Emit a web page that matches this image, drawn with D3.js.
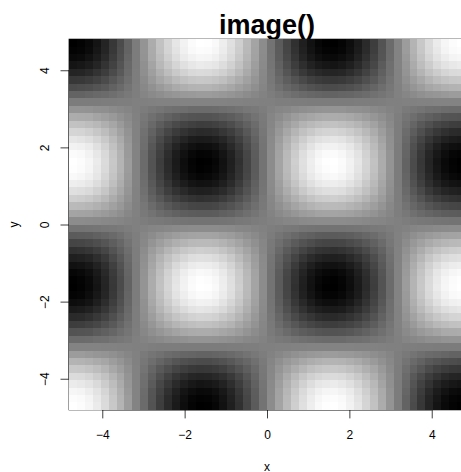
<!DOCTYPE html>
<html>
<head>
<meta charset="utf-8">
<script src="https://cdnjs.cloudflare.com/ajax/libs/d3/7.8.5/d3.min.js"></script>
<style>
html, body { margin: 0; padding: 0; background: #fff; overflow: hidden; }
text { font-family: "Liberation Sans", Arial, sans-serif; fill: #000; }
</style>
</head>
<body>
<div id="chart"></div>
<script>
// cell centres
const xs = [-4.71,-4.52,-4.33,-4.14,-3.94,-3.75,-3.56,-3.37,-3.17,-2.98,-2.79,-2.6,-2.4,-2.21,-2.02,-1.83,-1.64,-1.44,-1.25,-1.06,-0.87,-0.67,-0.48,-0.29,-0.1,0.1,0.29,0.48,0.67,0.87,1.06,1.25,1.44,1.64,1.83,2.02,2.21,2.4,2.6,2.79,2.98,3.17,3.37,3.56,3.75,3.94,4.14,4.33,4.52,4.71];
const ys = [4.71,4.52,4.33,4.14,3.94,3.75,3.56,3.37,3.17,2.98,2.79,2.6,2.4,2.21,2.02,1.83,1.64,1.44,1.25,1.06,0.87,0.67,0.48,0.29,0.1,-0.1,-0.29,-0.48,-0.67,-0.87,-1.06,-1.25,-1.44,-1.64,-1.83,-2.02,-2.21,-2.4,-2.6,-2.79,-2.98,-3.17,-3.37,-3.56,-3.75,-3.94,-4.14,-4.33,-4.52,-4.71];
const xTicks = [-4,-2,0,2,4];
const yTicks = [-4,-2,0,2,4];

// estimated gray level of each cell, -100 black to 100 white, top row first
const cells = [
[-100,-98,-93,-84,-72,-57,-41,-22,-3,16,35,52,67,80,90,97,100,99,95,87,76,62,46,29,10,-10,-29,-46,-62,-76,-87,-95,-99,-100,-97,-90,-80,-67,-52,-35,-16,3,22,41,57,72,84,93,98,100],
[-98,-96,-91,-82,-71,-56,-40,-22,-3,16,34,51,66,78,88,95,98,97,93,85,74,61,45,28,10,-10,-28,-45,-61,-74,-85,-93,-97,-98,-95,-88,-78,-66,-51,-34,-16,3,22,40,56,71,82,91,96,98],
[-93,-91,-86,-78,-67,-53,-38,-20,-3,15,33,48,62,74,84,90,93,92,88,81,71,58,43,27,9,-9,-27,-43,-58,-71,-81,-88,-92,-93,-90,-84,-74,-62,-48,-33,-15,3,20,38,53,67,78,86,91,93],
[-84,-82,-78,-71,-60,-48,-34,-18,-3,13,29,44,56,67,76,81,84,83,80,73,64,52,39,24,8,-8,-24,-39,-52,-64,-73,-80,-83,-84,-81,-76,-67,-56,-44,-29,-13,3,18,34,48,60,71,78,82,84],
[-72,-71,-67,-60,-52,-41,-30,-16,-2,12,25,37,48,58,65,70,72,71,68,63,55,45,33,21,7,-7,-21,-33,-45,-55,-63,-68,-71,-72,-70,-65,-58,-48,-37,-25,-12,2,16,30,41,52,60,67,71,72],
[-57,-56,-53,-48,-41,-32,-23,-13,-2,9,20,30,38,46,51,55,57,56,54,50,43,35,26,17,6,-6,-17,-26,-35,-43,-50,-54,-56,-57,-55,-51,-46,-38,-30,-20,-9,2,13,23,32,41,48,53,56,57],
[-41,-40,-38,-34,-30,-23,-17,-9,-1,7,14,21,27,33,37,40,41,41,39,36,31,25,19,12,4,-4,-12,-19,-25,-31,-36,-39,-41,-41,-40,-37,-33,-27,-21,-14,-7,1,9,17,23,30,34,38,40,41],
[-22,-22,-20,-18,-16,-13,-9,-5,-1,4,8,11,15,18,20,21,22,22,21,19,17,14,10,6,2,-2,-6,-10,-14,-17,-19,-21,-22,-22,-21,-20,-18,-15,-11,-8,-4,1,5,9,13,16,18,20,22,22],
[-3,-3,-3,-3,-2,-2,-1,-1,0,0,1,2,2,2,3,3,3,3,3,3,2,2,1,1,0,0,-1,-1,-2,-2,-3,-3,-3,-3,-3,-3,-2,-2,-2,-1,0,0,1,1,2,2,3,3,3,3],
[16,16,15,13,12,9,7,4,0,-3,-6,-8,-11,-13,-14,-16,-16,-16,-15,-14,-12,-10,-7,-5,-2,2,5,7,10,12,14,15,16,16,16,14,13,11,8,6,3,0,-4,-7,-9,-12,-13,-15,-16,-16],
[35,34,33,29,25,20,14,8,1,-6,-12,-18,-23,-28,-32,-34,-35,-35,-33,-30,-27,-22,-16,-10,-4,4,10,16,22,27,30,33,35,35,34,32,28,23,18,12,6,-1,-8,-14,-20,-25,-29,-33,-34,-35],
[52,51,48,44,37,30,21,11,2,-8,-18,-27,-35,-42,-47,-50,-52,-51,-49,-45,-40,-32,-24,-15,-5,5,15,24,32,40,45,49,51,52,50,47,42,35,27,18,8,-2,-11,-21,-30,-37,-44,-48,-51,-52],
[67,66,62,56,48,38,27,15,2,-11,-23,-35,-45,-54,-60,-65,-67,-66,-64,-58,-51,-42,-31,-19,-7,7,19,31,42,51,58,64,66,67,65,60,54,45,35,23,11,-2,-15,-27,-38,-48,-56,-62,-66,-67],
[80,78,74,67,58,46,33,18,2,-13,-28,-42,-54,-64,-72,-78,-80,-79,-76,-70,-61,-50,-37,-23,-8,8,23,37,50,61,70,76,79,80,78,72,64,54,42,28,13,-2,-18,-33,-46,-58,-67,-74,-78,-80],
[90,88,84,76,65,51,37,20,3,-14,-32,-47,-60,-72,-81,-87,-90,-89,-86,-78,-68,-56,-41,-26,-9,9,26,41,56,68,78,86,89,90,87,81,72,60,47,32,14,-3,-20,-37,-51,-65,-76,-84,-88,-90],
[97,95,90,81,70,55,40,21,3,-16,-34,-50,-65,-78,-87,-94,-97,-96,-92,-84,-74,-60,-45,-28,-10,10,28,45,60,74,84,92,96,97,94,87,78,65,50,34,16,-3,-21,-40,-55,-70,-81,-90,-95,-97],
[100,98,93,84,72,57,41,22,3,-16,-35,-52,-67,-80,-90,-97,-100,-99,-95,-87,-76,-62,-46,-29,-10,10,29,46,62,76,87,95,99,100,97,90,80,67,52,35,16,-3,-22,-41,-57,-72,-84,-93,-98,-100],
[99,97,92,83,71,56,41,22,3,-16,-35,-51,-66,-79,-89,-96,-99,-98,-94,-86,-75,-61,-46,-29,-10,10,29,46,61,75,86,94,98,99,96,89,79,66,51,35,16,-3,-22,-41,-56,-71,-83,-92,-97,-99],
[95,93,88,80,68,54,39,21,3,-15,-33,-49,-64,-76,-86,-92,-95,-94,-90,-83,-72,-59,-44,-28,-10,10,28,44,59,72,83,90,94,95,92,86,76,64,49,33,15,-3,-21,-39,-54,-68,-80,-88,-93,-95],
[87,85,81,73,63,50,36,19,3,-14,-30,-45,-58,-70,-78,-84,-87,-86,-83,-76,-66,-54,-40,-25,-9,9,25,40,54,66,76,83,86,87,84,78,70,58,45,30,14,-3,-19,-36,-50,-63,-73,-81,-85,-87],
[76,74,71,64,55,43,31,17,2,-12,-27,-40,-51,-61,-68,-74,-76,-75,-72,-66,-58,-47,-35,-22,-8,8,22,35,47,58,66,72,75,76,74,68,61,51,40,27,12,-2,-17,-31,-43,-55,-64,-71,-74,-76],
[62,61,58,52,45,35,25,14,2,-10,-22,-32,-42,-50,-56,-60,-62,-61,-59,-54,-47,-38,-29,-18,-6,6,18,29,38,47,54,59,61,62,60,56,50,42,32,22,10,-2,-14,-25,-35,-45,-52,-58,-61,-62],
[46,45,43,39,33,26,19,10,1,-7,-16,-24,-31,-37,-41,-45,-46,-46,-44,-40,-35,-29,-21,-13,-5,5,13,21,29,35,40,44,46,46,45,41,37,31,24,16,7,-1,-10,-19,-26,-33,-39,-43,-45,-46],
[29,28,27,24,21,17,12,6,1,-5,-10,-15,-19,-23,-26,-28,-29,-29,-28,-25,-22,-18,-13,-8,-3,3,8,13,18,22,25,28,29,29,28,26,23,19,15,10,5,-1,-6,-12,-17,-21,-24,-27,-28,-29],
[10,10,9,8,7,6,4,2,0,-2,-4,-5,-7,-8,-9,-10,-10,-10,-10,-9,-8,-6,-5,-3,-1,1,3,5,6,8,9,10,10,10,10,9,8,7,5,4,2,0,-2,-4,-6,-7,-8,-9,-10,-10],
[-10,-10,-9,-8,-7,-6,-4,-2,0,2,4,5,7,8,9,10,10,10,10,9,8,6,5,3,1,-1,-3,-5,-6,-8,-9,-10,-10,-10,-10,-9,-8,-7,-5,-4,-2,0,2,4,6,7,8,9,10,10],
[-29,-28,-27,-24,-21,-17,-12,-6,-1,5,10,15,19,23,26,28,29,29,28,25,22,18,13,8,3,-3,-8,-13,-18,-22,-25,-28,-29,-29,-28,-26,-23,-19,-15,-10,-5,1,6,12,17,21,24,27,28,29],
[-46,-45,-43,-39,-33,-26,-19,-10,-1,7,16,24,31,37,41,45,46,46,44,40,35,29,21,13,5,-5,-13,-21,-29,-35,-40,-44,-46,-46,-45,-41,-37,-31,-24,-16,-7,1,10,19,26,33,39,43,45,46],
[-62,-61,-58,-52,-45,-35,-25,-14,-2,10,22,32,42,50,56,60,62,61,59,54,47,38,29,18,6,-6,-18,-29,-38,-47,-54,-59,-61,-62,-60,-56,-50,-42,-32,-22,-10,2,14,25,35,45,52,58,61,62],
[-76,-74,-71,-64,-55,-43,-31,-17,-2,12,27,40,51,61,68,74,76,75,72,66,58,47,35,22,8,-8,-22,-35,-47,-58,-66,-72,-75,-76,-74,-68,-61,-51,-40,-27,-12,2,17,31,43,55,64,71,74,76],
[-87,-85,-81,-73,-63,-50,-36,-19,-3,14,30,45,58,70,78,84,87,86,83,76,66,54,40,25,9,-9,-25,-40,-54,-66,-76,-83,-86,-87,-84,-78,-70,-58,-45,-30,-14,3,19,36,50,63,73,81,85,87],
[-95,-93,-88,-80,-68,-54,-39,-21,-3,15,33,49,64,76,86,92,95,94,90,83,72,59,44,28,10,-10,-28,-44,-59,-72,-83,-90,-94,-95,-92,-86,-76,-64,-49,-33,-15,3,21,39,54,68,80,88,93,95],
[-99,-97,-92,-83,-71,-56,-41,-22,-3,16,35,51,66,79,89,96,99,98,94,86,75,61,46,29,10,-10,-29,-46,-61,-75,-86,-94,-98,-99,-96,-89,-79,-66,-51,-35,-16,3,22,41,56,71,83,92,97,99],
[-100,-98,-93,-84,-72,-57,-41,-22,-3,16,35,52,67,80,90,97,100,99,95,87,76,62,46,29,10,-10,-29,-46,-62,-76,-87,-95,-99,-100,-97,-90,-80,-67,-52,-35,-16,3,22,41,57,72,84,93,98,100],
[-97,-95,-90,-81,-70,-55,-40,-21,-3,16,34,50,65,78,87,94,97,96,92,84,74,60,45,28,10,-10,-28,-45,-60,-74,-84,-92,-96,-97,-94,-87,-78,-65,-50,-34,-16,3,21,40,55,70,81,90,95,97],
[-90,-88,-84,-76,-65,-51,-37,-20,-3,14,32,47,60,72,81,87,90,89,86,78,68,56,41,26,9,-9,-26,-41,-56,-68,-78,-86,-89,-90,-87,-81,-72,-60,-47,-32,-14,3,20,37,51,65,76,84,88,90],
[-80,-78,-74,-67,-58,-46,-33,-18,-2,13,28,42,54,64,72,78,80,79,76,70,61,50,37,23,8,-8,-23,-37,-50,-61,-70,-76,-79,-80,-78,-72,-64,-54,-42,-28,-13,2,18,33,46,58,67,74,78,80],
[-67,-66,-62,-56,-48,-38,-27,-15,-2,11,23,35,45,54,60,65,67,66,64,58,51,42,31,19,7,-7,-19,-31,-42,-51,-58,-64,-66,-67,-65,-60,-54,-45,-35,-23,-11,2,15,27,38,48,56,62,66,67],
[-52,-51,-48,-44,-37,-30,-21,-11,-2,8,18,27,35,42,47,50,52,51,49,45,40,32,24,15,5,-5,-15,-24,-32,-40,-45,-49,-51,-52,-50,-47,-42,-35,-27,-18,-8,2,11,21,30,37,44,48,51,52],
[-35,-34,-33,-29,-25,-20,-14,-8,-1,6,12,18,23,28,32,34,35,35,33,30,27,22,16,10,4,-4,-10,-16,-22,-27,-30,-33,-35,-35,-34,-32,-28,-23,-18,-12,-6,1,8,14,20,25,29,33,34,35],
[-16,-16,-15,-13,-12,-9,-7,-4,0,3,6,8,11,13,14,16,16,16,15,14,12,10,7,5,2,-2,-5,-7,-10,-12,-14,-15,-16,-16,-16,-14,-13,-11,-8,-6,-3,0,4,7,9,12,13,15,16,16],
[3,3,3,3,2,2,1,1,0,0,-1,-2,-2,-2,-3,-3,-3,-3,-3,-3,-2,-2,-1,-1,0,0,1,1,2,2,3,3,3,3,3,3,2,2,2,1,0,0,-1,-1,-2,-2,-3,-3,-3,-3],
[22,22,20,18,16,13,9,5,1,-4,-8,-11,-15,-18,-20,-21,-22,-22,-21,-19,-17,-14,-10,-6,-2,2,6,10,14,17,19,21,22,22,21,20,18,15,11,8,4,-1,-5,-9,-13,-16,-18,-20,-22,-22],
[41,40,38,34,30,23,17,9,1,-7,-14,-21,-27,-33,-37,-40,-41,-41,-39,-36,-31,-25,-19,-12,-4,4,12,19,25,31,36,39,41,41,40,37,33,27,21,14,7,-1,-9,-17,-23,-30,-34,-38,-40,-41],
[57,56,53,48,41,32,23,13,2,-9,-20,-30,-38,-46,-51,-55,-57,-56,-54,-50,-43,-35,-26,-17,-6,6,17,26,35,43,50,54,56,57,55,51,46,38,30,20,9,-2,-13,-23,-32,-41,-48,-53,-56,-57],
[72,71,67,60,52,41,30,16,2,-12,-25,-37,-48,-58,-65,-70,-72,-71,-68,-63,-55,-45,-33,-21,-7,7,21,33,45,55,63,68,71,72,70,65,58,48,37,25,12,-2,-16,-30,-41,-52,-60,-67,-71,-72],
[84,82,78,71,60,48,34,18,3,-13,-29,-44,-56,-67,-76,-81,-84,-83,-80,-73,-64,-52,-39,-24,-8,8,24,39,52,64,73,80,83,84,81,76,67,56,44,29,13,-3,-18,-34,-48,-60,-71,-78,-82,-84],
[93,91,86,78,67,53,38,20,3,-15,-33,-48,-62,-74,-84,-90,-93,-92,-88,-81,-71,-58,-43,-27,-9,9,27,43,58,71,81,88,92,93,90,84,74,62,48,33,15,-3,-20,-38,-53,-67,-78,-86,-91,-93],
[98,96,91,82,71,56,40,22,3,-16,-34,-51,-66,-78,-88,-95,-98,-97,-93,-85,-74,-61,-45,-28,-10,10,28,45,61,74,85,93,97,98,95,88,78,66,51,34,16,-3,-22,-40,-56,-71,-82,-91,-96,-98],
[100,98,93,84,72,57,41,22,3,-16,-35,-52,-67,-80,-90,-97,-100,-99,-95,-87,-76,-62,-46,-29,-10,10,29,46,62,76,87,95,99,100,97,90,80,67,52,35,16,-3,-22,-41,-57,-72,-84,-93,-98,-100]
];

const width = 461, height = 472;

var svg = d3.select("#chart").append("svg")
  .attr("width", width)
  .attr("height", height)
  .style("display", "block");

// plot region runs past the right side of the window
var left = 69, right = 465, top_ = 39.1, bottom = 409.9;

var x = d3.scaleLinear().domain([-4.808, 4.808]).range([left, right]);
var y = d3.scaleLinear().domain([-4.808, 4.808]).range([bottom, top_]);
var xBand = d3.scaleBand().domain(xs).range([left, right]);
var yBand = d3.scaleBand().domain(ys).range([top_, bottom]);
var gray = d3.scaleLinear().domain([-100, 100]).range(["#000000", "#ffffff"]);

// title sits under the image, its descender stops at the top edge
svg.append("text")
  .attr("x", x(0)).attr("y", 34)
  .attr("text-anchor", "middle")
  .style("font-size", "27px").style("font-weight", "bold")
  .text("image()");

// box goes first, the image is painted over most of it
svg.append("rect")
  .attr("x", left).attr("y", top_)
  .attr("width", right - left).attr("height", bottom - top_)
  .attr("fill", "none").attr("stroke", "#000").attr("stroke-width", 0.75);

var xAxis = svg.append("g")
  .attr("transform", `translate(0,${bottom})`)
  .call(d3.axisBottom(x).tickValues(xTicks).tickSize(8.5).tickSizeOuter(0).tickPadding(12));
xAxis.select(".domain").remove();
xAxis.append("line")
  .attr("x1", x(xTicks[0])).attr("x2", x(xTicks[xTicks.length - 1]))
  .attr("stroke", "#000").attr("stroke-width", 0.75);

var yAxis = svg.append("g")
  .attr("transform", `translate(${left},0)`)
  .call(d3.axisLeft(y).tickValues(yTicks).tickSize(8.5).tickSizeOuter(0).tickPadding(11));
yAxis.select(".domain").remove();
yAxis.append("line")
  .attr("y1", y(yTicks[0])).attr("y2", y(yTicks[yTicks.length - 1]))
  .attr("stroke", "#000").attr("stroke-width", 0.75);

svg.selectAll(".tick line").attr("stroke-width", 0.75);
svg.selectAll(".tick text").style("font-size", "12px").style("font-family", '"Liberation Sans", Arial, sans-serif');

// rotate the y labels like R does
yAxis.selectAll(".tick text")
  .attr("x", null).attr("dy", null)
  .attr("text-anchor", "middle")
  .attr("transform", "translate(-20,0) rotate(-90)");

svg.append("g").selectAll("g")
  .data(cells)
  .enter().append("g")
  .each(function(row, r) {
    d3.select(this).selectAll("rect")
      .data(row)
      .enter().append("rect")
      .attr("x", (d, c) => xBand(xs[c]))
      .attr("y", yBand(ys[r]))
      .attr("width", xBand.bandwidth())
      .attr("height", yBand.bandwidth())
      .attr("fill", d => gray(d))
      .attr("shape-rendering", "crispEdges");
  });

svg.append("text")
  .attr("x", x(0)).attr("y", 471)
  .attr("text-anchor", "middle")
  .style("font-size", "12px")
  .text("x");

svg.append("text")
  .attr("transform", `translate(18,${y(0)}) rotate(-90)`)
  .attr("text-anchor", "middle")
  .style("font-size", "12px")
  .text("y");
</script>
</body>
</html>
